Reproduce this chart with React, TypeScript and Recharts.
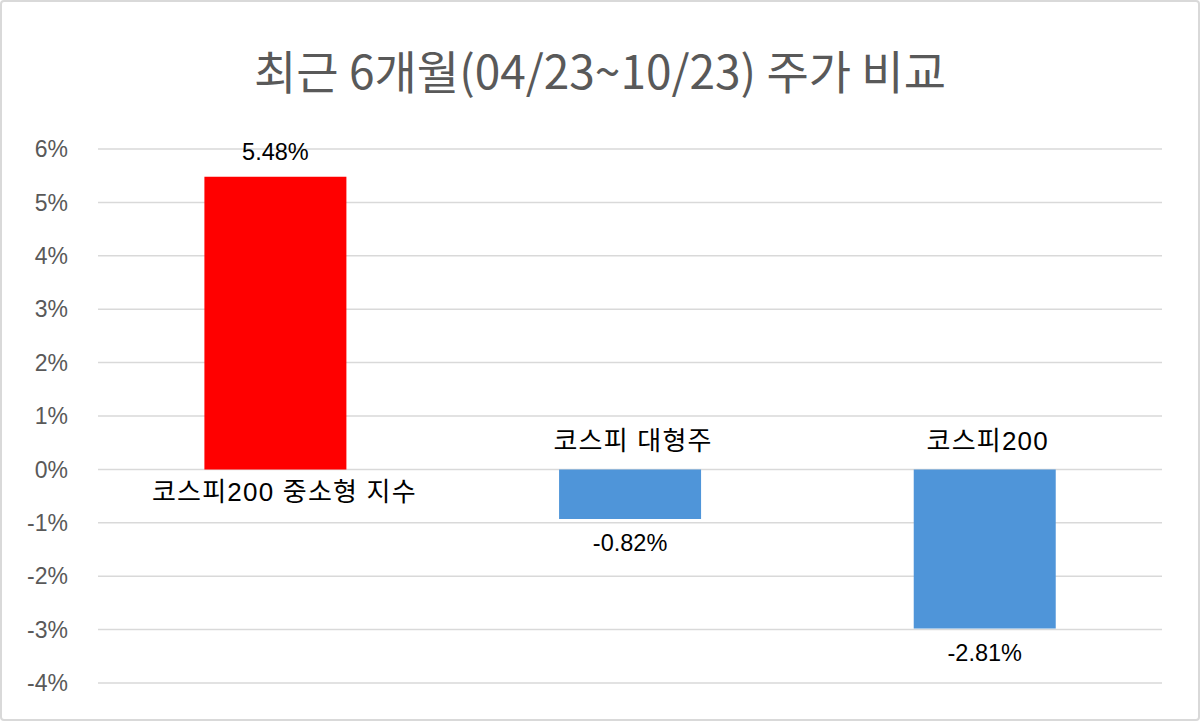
import React from "react";
import { BarChart, Bar, XAxis, YAxis, CartesianGrid, LabelList, Cell } from "recharts";

const categories = ["코스피200 중소형 지수", "코스피 대형주", "코스피200"];
// bar heights as drawn in the source chart
const values = [5.48, -0.93, -2.98];
// data labels printed on the source chart
const valueLabels = ["5.48%", "-0.82%", "-2.81%"];
const barColors = ["#ff0000", "#4f95d9", "#4f95d9"];
const yTicks = [-4, -3, -2, -1, 0, 1, 2, 3, 4, 5, 6];

const data = categories.map((name, i) => ({
  name,
  value: values[i],
  label: valueLabels[i],
}));

const FONT = "'Liberation Sans', 'Noto Sans CJK KR', sans-serif";

const box = (props: any) => {
  const vb = props.viewBox || props;
  const x = Number(vb.x);
  const y = Number(vb.y);
  const w = Number(vb.width);
  const h = Number(vb.height);
  return { cx: x + w / 2, top: Math.min(y, y + h), bottom: Math.max(y, y + h) };
};

// value label outside the bar end
const ValueLabel = (props: any) => {
  const { cx, top, bottom } = box(props);
  const v = values[props.index];
  const ty = v >= 0 ? top - 23 : bottom + 26;
  return (
    <text x={cx} y={ty} textAnchor="middle" dominantBaseline="middle" fontSize={23.5} fill="#000" fontFamily={FONT}>
      {props.value}
    </text>
  );
};

// category name next to the zero line, on the other side from the bar
const NameLabel = (props: any) => {
  const { cx, top, bottom } = box(props);
  const v = values[props.index];
  const ty = v >= 0 ? bottom + 25 : top - 26;
  return (
    <text
      x={cx + (v >= 0 ? 9 : 3)}
      y={ty}
      textAnchor="middle"
      dominantBaseline="middle"
      fontSize={26}
      letterSpacing={1.2}
      fill="#000"
      fontFamily={FONT}
    >
      {props.value}
    </text>
  );
};

export default function App() {
  return (
    <div
      style={{
        position: "absolute",
        left: 0,
        top: 0,
        width: 1200,
        height: 721,
        background: "#fff",
        boxSizing: "border-box",
        border: "2px solid #d9d9d9",
        borderRadius: 4,
        fontFamily: FONT,
      }}
    >
      <div
        style={{
          position: "absolute",
          top: 34,
          left: 0,
          width: "100%",
          textAlign: "center",
          fontSize: 46,
          lineHeight: "66px",
          color: "#595959",
          fontFamily: "'Noto Sans CJK KR', sans-serif",
        }}
      >
        최근 6개월(04/23~10/23) 주가 비교
      </div>
      <div style={{ position: "absolute", left: -2, top: -2 }}>
        <BarChart
          width={1200}
          height={721}
          data={data}
          margin={{ top: 149, right: 38, bottom: 38, left: 0 }}
          barCategoryGap="30%"
        >
          <CartesianGrid vertical={false} stroke="#d9d9d9" strokeWidth={1.5} />
          <XAxis dataKey="name" hide />
          <YAxis
            width={98}
            domain={[-4, 6]}
            ticks={yTicks}
            interval={0}
            tickFormatter={(v) => `${v}%`}
            tickLine={false}
            axisLine={false}
            tickMargin={24}
            tick={{ fill: "#595959", fontSize: 23, fontFamily: FONT }}
          />
          <Bar dataKey="value" isAnimationActive={false}>
            {data.map((d, i) => (
              <Cell key={d.name} fill={barColors[i]} />
            ))}
            <LabelList dataKey="label" content={ValueLabel} />
            <LabelList dataKey="name" content={NameLabel} />
          </Bar>
        </BarChart>
      </div>
    </div>
  );
}
